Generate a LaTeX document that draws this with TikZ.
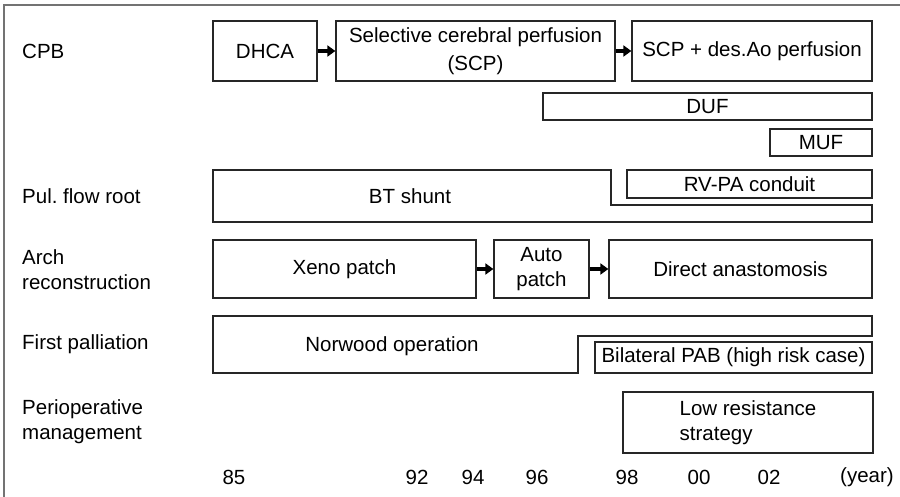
\documentclass[tikz,border=0pt]{standalone}
\usepackage{fontspec}
\setmainfont{Liberation Sans}
\usepackage{tikz}
\usetikzlibrary{arrows.meta,positioning,calc}

\begin{document}
\begin{tikzpicture}[
  x=1pt,y=-1pt,
  box/.style={draw=black!85, line width=1.3pt, align=center, inner sep=0pt, font=\fontsize{20.5}{25}\selectfont},
  outline/.style={draw=black!85, line width=1.3pt},
  plain/.style={inner sep=0pt, align=center, font=\fontsize{20.5}{25}\selectfont},
  rowlabel/.style={plain, anchor=west, align=left},
  arrow/.style={-{Triangle[length=8pt,width=11pt]}, line width=4pt, draw=black},
  frame/.style={draw=black!55, line width=2pt}
]
\useasboundingbox (0,0) rectangle (900,497);
\draw[frame] (4,497) -- (4,5) -- (900,5);
% row labels
\node[rowlabel] (cpb) at (22,51) {CPB};
\node[rowlabel] (pul) at (22,196) {Pul.\ flow root};
\node[rowlabel] (arch) at (22,270) {Arch\\reconstruction};
\node[rowlabel] (first) at (22,344) {First palliation};
\node[rowlabel] (periop) at (22,422) {Perioperative\\management};
% CPB
\node[box, minimum width=104pt, minimum height=60pt] (dhca) at (265,51) {DHCA};
\node[box, minimum width=279pt, minimum height=60pt] (scp) at (475.5,51) {Selective cerebral perfusion\\[3pt](SCP)};
\node[box, minimum width=240pt, minimum height=60pt] (scpdes) at (752,51) {SCP + des.Ao perfusion};
\node[box, minimum width=329pt, minimum height=27pt] (duf) at (707.5,106.5) {DUF};
\node[box, minimum width=102pt, minimum height=27pt] (muf) at (821,142.5) {MUF};
\draw[arrow] (dhca) -- (scp);
\draw[arrow] (scp) -- (scpdes);
% pulmonary flow
\draw[outline] (213,170) -- (611,170) -- (611,205) -- (872,205) -- (872,222) -- (213,222) -- cycle;
\node[plain] (bt) at (410,196) {BT shunt};
\node[box, minimum width=245pt, minimum height=28pt] (rvpa) at (749.5,184) {RV-PA conduit};
% arch
\node[box, minimum width=263pt, minimum height=58pt] (xeno) at (344.5,269) {Xeno patch};
\node[box, minimum width=95pt, minimum height=58pt] (auto) at (541.5,269) {Auto\\patch};
\node[box, minimum width=263pt, minimum height=58pt] (direct) at (740.5,269) {Direct anastomosis};
\draw[arrow] (xeno) -- (auto);
\draw[arrow] (auto) -- (direct);
% first palliation
\draw[outline] (213,316) -- (872,316) -- (872,336) -- (578,336) -- (578,373) -- (213,373) -- cycle;
\node[plain] (norwood) at (392,346) {Norwood operation};
\node[box, minimum width=277pt, minimum height=31pt] (pab) at (733.5,357.5) {Bilateral PAB (high risk case)};
% management
\node[box, align=left, minimum width=250pt, minimum height=61pt] (lowres) at (748,422.5) {Low resistance\\strategy};
% years
\node[plain] (y85) at (234,477) {85};
\node[plain] (y92) at (417,477) {92};
\node[plain] (y94) at (473,477) {94};
\node[plain] (y96) at (537,477) {96};
\node[plain] (y98) at (627,477) {98};
\node[plain] (y00) at (699,477) {00};
\node[plain] (y02) at (769,477) {02};
\node[plain] (year) at (867,477) {(year)};
\end{tikzpicture}
\end{document}
